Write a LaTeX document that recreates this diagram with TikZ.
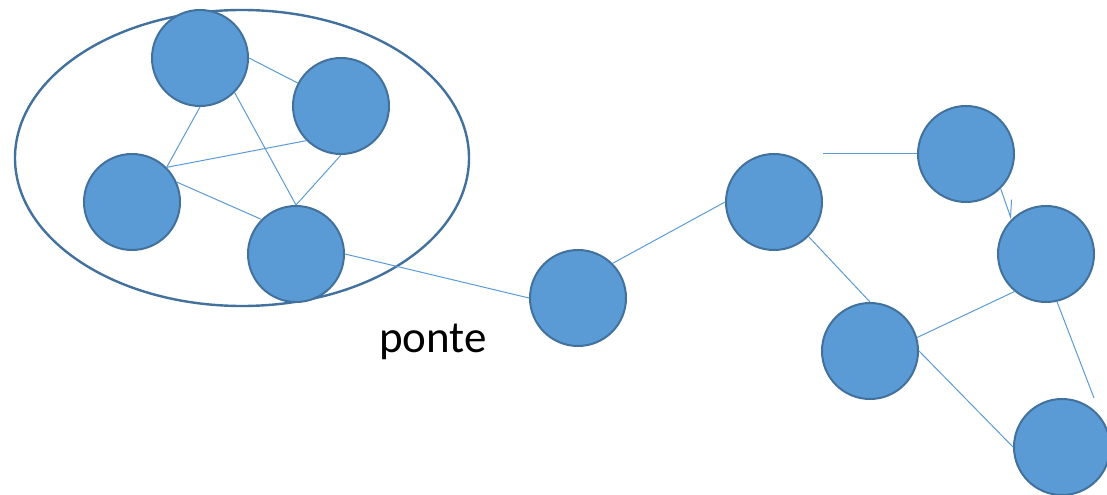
\documentclass[tikz,border=0pt]{standalone}
\usepackage{fontspec}
\setmainfont{Carlito}
\usepackage{tikz}
\usetikzlibrary{arrows.meta}
\usepackage{xcolor}
\definecolor{nodofill}{HTML}{5B9BD5}
\definecolor{nodobordo}{HTML}{41719C}

\begin{document}
\begin{tikzpicture}[x=0.75pt,y=-0.75pt,
		vertice/.style={circle,draw=nodobordo,fill=nodofill,line width=1.5pt,minimum size=72pt,inner sep=0pt},
		arco/.style={draw=nodofill,line width=0.75pt},
		gruppo/.style={draw=nodobordo,line width=1.8pt}]
		\useasboundingbox (0,0) rectangle (1107,495);
		
		%--- Cluster inside the ellipse ---
		\draw[gruppo] (242,158) ellipse [x radius=227, y radius=148];
		\node[vertice] (a) at (200,58) {};
		\node[vertice] (b) at (341,106) {};
		\node[vertice] (c) at (132,202) {};
		\node[vertice] (d) at (296,254) {};
		
		% Links inside the cluster
		\draw[arco] (a.east) -- (b.152);
		\draw[arco] (a.south) -- (c.45);
		\draw[arco] (a.-45) -- (d.north);
		\draw[arco] (c.45) -- (b.-135);
		\draw[arco] (b.south) -- (d.north);
		\draw[arco] (c.24) -- (d.135);
		
		%--- Bridge and the rest of the graph ---
		\node[vertice] (e) at (578,298) {};
		\node[vertice] (f) at (774,202) {};
		\node[vertice] (g) at (966,154) {};
		\node[vertice] (h) at (1046,254) {};
		\node[vertice] (i) at (870,351) {};
		\node[vertice] (j) at (1062,447) {};
		\node[anchor=base,font=\fontsize{33.75}{40}\selectfont] (ponte) at (433,353) {ponte};
		
		\draw[arco] (d.east) -- (e.west);   % bridge
		\draw[arco] (e.45) -- (f.west);
		\draw[arco] (f.east |- g.west) -- (g.west);
		\draw[arco,-{Straight Barb[harpoon,length=12pt,width=10pt]}] (g.-45) -- (h.135);
		\draw[arco] (f.-45) -- (i.north);
		\draw[arco] (i.16) -- (h.-130);
		\draw[arco] (h.-77) -- ([xshift=24pt]j.north);
		\draw[arco] (i.east) -- (j.west);
		
	\end{tikzpicture}
\end{document}
